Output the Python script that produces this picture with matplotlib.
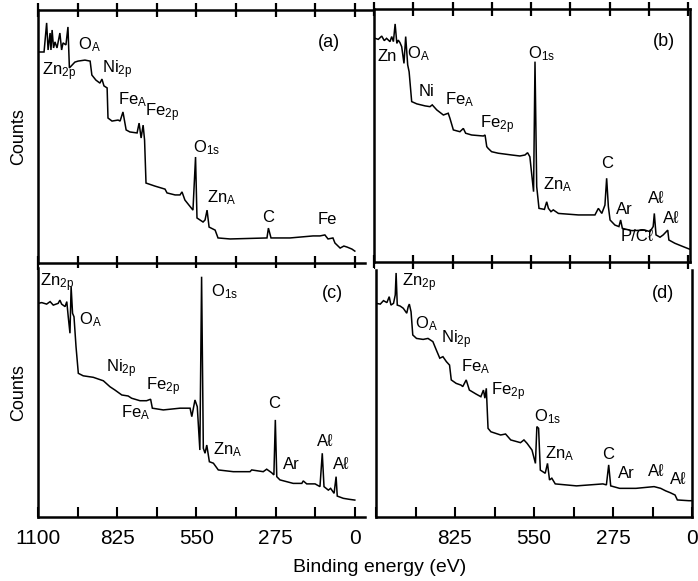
import numpy as np
import matplotlib
matplotlib.use('Agg')
import matplotlib.pyplot as plt
from matplotlib.ticker import FixedLocator, FuncFormatter

plt.rcParams['font.family'] = ['Liberation Sans', 'DejaVu Sans']
plt.rcParams['mathtext.default'] = 'regular'

# ---- spectra (binding energy in eV, counts in arb. units 0-100) ----
energy_a = [1100, 1079, 1070, 1065, 1058, 1055, 1051, 1046, 1041, 1034, 1024, 1018, 1013, 1003,
            996, 991, 972, 961, 937, 919, 913, 899, 885, 878, 871, 860, 857, 843, 822, 815, 805,
            794, 781, 756, 749, 742, 735, 730, 725, 694, 659, 652, 624, 607, 600, 590, 562, 553,
            548, 527, 520, 513, 506, 492, 485, 475, 433, 305, 300, 291, 225, 145, 121, 104, 93,
            76, 69, 51, 38, 27, 10, 0]
counts_a = [83.4, 83.4, 94.9, 84.2, 90.9, 84.2, 92.1, 85.0, 87.4, 85.0, 90.9, 84.2, 87.0, 86.2,
            93.3, 77.1, 79.4, 79.8, 80.2, 79.8, 74.3, 72.3, 71.1, 72.7, 70.0, 69.2, 57.3, 56.1,
            56.5, 56.1, 59.7, 52.6, 51.8, 51.4, 55.3, 49.4, 54.5, 48.6, 31.6, 30.4, 29.2, 27.7,
            26.9, 26.9, 28.1, 24.9, 20.9, 41.9, 17.8, 16.2, 17.0, 20.9, 14.2, 13.4, 13.0, 9.9,
            9.5, 9.9, 13.8, 9.9, 9.9, 10.7, 10.7, 11.1, 9.5, 9.9, 7.9, 5.9, 6.7, 6.3, 5.5, 4.7]

energy_b = [1100, 1096, 1085, 1073, 1064, 1056, 1044, 1038, 1032, 1026, 1020, 1015, 1009, 1003,
            995, 989, 982, 977, 968, 950, 921, 904, 896, 880, 857, 840, 834, 822, 799, 787, 779,
            758, 717, 711, 705, 700, 688, 665, 618, 589, 571, 562, 554, 541, 536, 530, 522, 503,
            495, 489, 480, 472, 454, 384, 326, 314, 302, 291, 285, 279, 273, 256, 242, 236, 230,
            197, 151, 133, 122, 118, 112, 98, 87, 71, 67, 46, 22, -7]
counts_b = [88.4, 88.4, 88.0, 89.3, 87.5, 88.4, 87.1, 89.1, 87.1, 94.1, 86.4, 87.7, 86.7, 85.1,
            78.5, 89.1, 77.9, 75.2, 63.4, 62.5, 61.7, 61.4, 62.1, 60.1, 58.1, 58.8, 56.8, 52.2,
            51.5, 52.8, 50.9, 50.2, 49.8, 50.2, 45.6, 44.9, 43.6, 43.0, 42.3, 41.9, 42.3, 43.2,
            41.6, 27.8, 79.2, 29.8, 21.2, 20.8, 23.8, 21.2, 19.9, 20.6, 19.2, 18.6, 18.6, 21.2,
            19.2, 22.5, 33.1, 21.9, 16.6, 14.6, 14.0, 16.6, 13.3, 12.4, 12.6, 12.0, 14.0, 19.2,
            10.7, 9.8, 10.7, 12.6, 8.7, 7.4, 6.3, 5.0]

energy_c = [1100, 1087, 1070, 1058, 1047, 1030, 1024, 1018, 1006, 1000, 995, 989, 985, 980, 975,
            968, 960, 943, 908, 873, 850, 833, 809, 787, 775, 746, 723, 709, 703, 665, 607, 572,
            566, 555, 547, 538, 532, 526, 520, 514, 505, 491, 474, 422, 364, 358, 318, 306, 289,
            281, 276, 271, 260, 214, 184, 179, 167, 138, 121, 113, 107, 92, 84, 72, 65, 61, 40,
            19, 0]
counts_c = [85.8, 86.1, 85.5, 86.5, 85.1, 85.8, 87.1, 85.5, 84.5, 86.5, 80.4, 73.8, 92.5, 81.8,
            80.4, 68.4, 57.7, 56.7, 56.1, 54.7, 52.3, 51.0, 49.0, 48.6, 47.7, 46.7, 46.7, 47.3,
            43.7, 43.0, 43.7, 43.7, 40.3, 47.0, 44.3, 26.9, 96.5, 27.6, 25.6, 28.9, 22.2, 21.6,
            18.9, 18.2, 18.2, 18.9, 18.2, 19.2, 17.8, 16.9, 39.0, 16.2, 14.9, 13.5, 13.5, 14.5,
            13.3, 13.3, 12.2, 25.6, 12.2, 10.8, 11.5, 9.5, 16.2, 8.4, 7.5, 7.1, 6.8]

energy_d = [1100, 1085, 1074, 1062, 1054, 1048, 1039, 1033, 1030, 1026, 1016, 1005, 993, 988, 984,
            978, 972, 959, 936, 919, 902, 890, 878, 867, 855, 844, 838, 821, 804, 798, 786, 775,
            752, 735, 726, 721, 716, 710, 700, 666, 649, 631, 597, 585, 574, 557, 545, 540, 534,
            528, 511, 503, 496, 488, 476, 402, 310, 298, 290, 283, 252, 195, 132, 109, 92, 75, 59,
            51, 11, 0]
counts_d = [86.5, 86.2, 87.6, 86.8, 89.2, 85.8, 86.5, 89.9, 98.8, 85.8, 85.4, 84.5, 82.5, 85.1,
            86.2, 83.1, 73.7, 72.3, 71.9, 72.3, 71.0, 67.6, 64.3, 64.9, 62.9, 61.5, 55.5, 54.1,
            53.4, 52.8, 55.5, 51.4, 49.8, 48.7, 51.4, 48.1, 52.1, 35.9, 34.5, 33.2, 33.6, 31.2,
            30.1, 31.2, 29.8, 27.1, 21.7, 36.6, 35.9, 19.0, 17.7, 21.7, 15.0, 15.7, 13.4, 12.6,
            13.4, 13.0, 21.1, 12.6, 11.6, 11.6, 12.3, 11.6, 10.6, 9.8, 8.9, 6.9, 6.6, 6.6]

# peak labels: (text, energy, counts)
labels_a = [('Zn$_{2p}$', 1086, 75.5), ('O$_A$', 961, 86.2), ('Ni$_{2p}$', 878, 76.3),
            ('Fe$_A$', 822, 64.4), ('Fe$_{2p}$', 728, 59.3), ('O$_{1s}$', 562, 45.5),
            ('Zn$_A$', 513, 25.7), ('Fe', 128, 17.0)]
labels_b = [('Zn', 1088, 81.1), ('O$_A$', 985, 82.5), ('Ni', 942, 67.3), ('Fe$_A$', 851, 64.0),
            ('Fe$_{2p}$', 729, 54.2), ('O$_{1s}$', 559, 82.5), ('Zn$_A$', 507, 30.4),
            ('Ar', 253, 20.6), ('Aℓ', 139, 25.2), ('Aℓ', 87, 17.3), ('P/Cℓ', 235, 10.0)]
labels_c = [('Zn$_{2p}$', 1093, 94.0), ('O$_A$', 957, 79.1), ('Ni$_{2p}$', 864, 59.7),
            ('Fe$_{2p}$', 725, 52.3), ('Fe$_A$', 813, 41.9), ('O$_{1s}$', 500, 90.5),
            ('Zn$_A$', 491, 26.9), ('Ar', 248, 21.2), ('Aℓ', 132, 30.2), ('Aℓ', 75, 20.9)]
labels_d = [('Zn$_{2p}$', 1009, 94.7), ('O$_A$', 965, 78.4), ('Ni$_{2p}$', 873, 71.7),
            ('Fe$_A$', 804, 60.8), ('Fe$_{2p}$', 700, 50.7), ('O$_{1s}$', 549, 40.6),
            ('Zn$_A$', 511, 25.8), ('Ar', 258, 17.7), ('Aℓ', 155, 18.3), ('Aℓ', 75, 15.0)]
carbon_pos = {'a': (301, 17.8), 'b': (285, 39.0), 'c': (281, 45.4), 'd': (293, 25.5)}
panel_pos = {'a': (128, 87.0), 'b': (122, 87.1), 'c': (115, 89.8), 'd': (138, 90.6)}

tick_values = np.arange(0, 1100.1, 137.5)

W, H = 698, 581
fig = plt.figure(figsize=(W / 100, H / 100), dpi=100)


def add_panel(left, top, right, bottom):
    return fig.add_axes([left / W, 1 - bottom / H, (right - left) / W, (bottom - top) / H])


ax_a = add_panel(38, 10, 374, 263)
ax_b = add_panel(374, 9, 690, 262)
ax_c = add_panel(38, 268, 374, 517)
ax_d = add_panel(376, 270, 692, 517)

panels = [
    (ax_a, 'a', energy_a, counts_a, labels_a, (1100, -66.6)),
    (ax_b, 'b', energy_b, counts_b, labels_b, (1100, -7)),
    (ax_c, 'c', energy_c, counts_c, labels_c, (1100, -66.6)),
    (ax_d, 'd', energy_d, counts_d, labels_d, (1100, 0)),
]

for ax, key, e, c, labs, xl in panels:
    ax.plot(e, c, color='black', lw=1.1, solid_joinstyle='miter')
    ax.set_xlim(*xl)
    ax.set_ylim(0, 100)
    ax.set_yticks([])
    ax.xaxis.set_major_locator(FixedLocator(tick_values))
    for sp in ax.spines.values():
        sp.set_linewidth(1.8)
    for s, x, y in labs:
        ax.text(x, y, s, ha='left', va='center', fontsize=12)
    cx, cy = carbon_pos[key]
    ax.text(cx, cy, 'C', ha='center', va='center', fontsize=12)
    px, py = panel_pos[key]
    ax.text(px, py, '(%s)' % key, ha='left', va='center', fontsize=13)

# top row: ticks crossing the bottom edge and along the top edge, no numbers
for ax in (ax_a, ax_b):
    ax.tick_params(axis='x', which='major', direction='inout', length=10, width=1.6,
                   bottom=True, top=True, labelbottom=False, labeltop=False)

# bottom row: inward ticks with numbers every 275 eV
fmt = FuncFormatter(lambda v, p: '%d' % v if abs(v % 275) < 1e-6 else '')
for ax in (ax_c, ax_d):
    ax.tick_params(axis='x', direction='in', length=7, width=1.5, pad=9, labelsize=15)
    ax.xaxis.set_major_formatter(fmt)
    ax.spines['top'].set_visible(False)

ax_d.xaxis.set_major_formatter(FuncFormatter(
    lambda v, p: '%d' % v if abs(v % 275) < 1e-6 and v < 1000 else ''))

# left column: open to the right, bottom axis ends just past 0 eV
for ax in (ax_a, ax_c):
    ax.spines['right'].set_visible(False)
    ax.spines['bottom'].set_bounds(1100, -35)
    ax.set_ylabel('Counts', fontsize=13, labelpad=8)

fig.text(380 / W, 1 - 568 / H, 'Binding energy (eV)', ha='center', va='center', fontsize=14)

fig.savefig('out.png', dpi=100)
